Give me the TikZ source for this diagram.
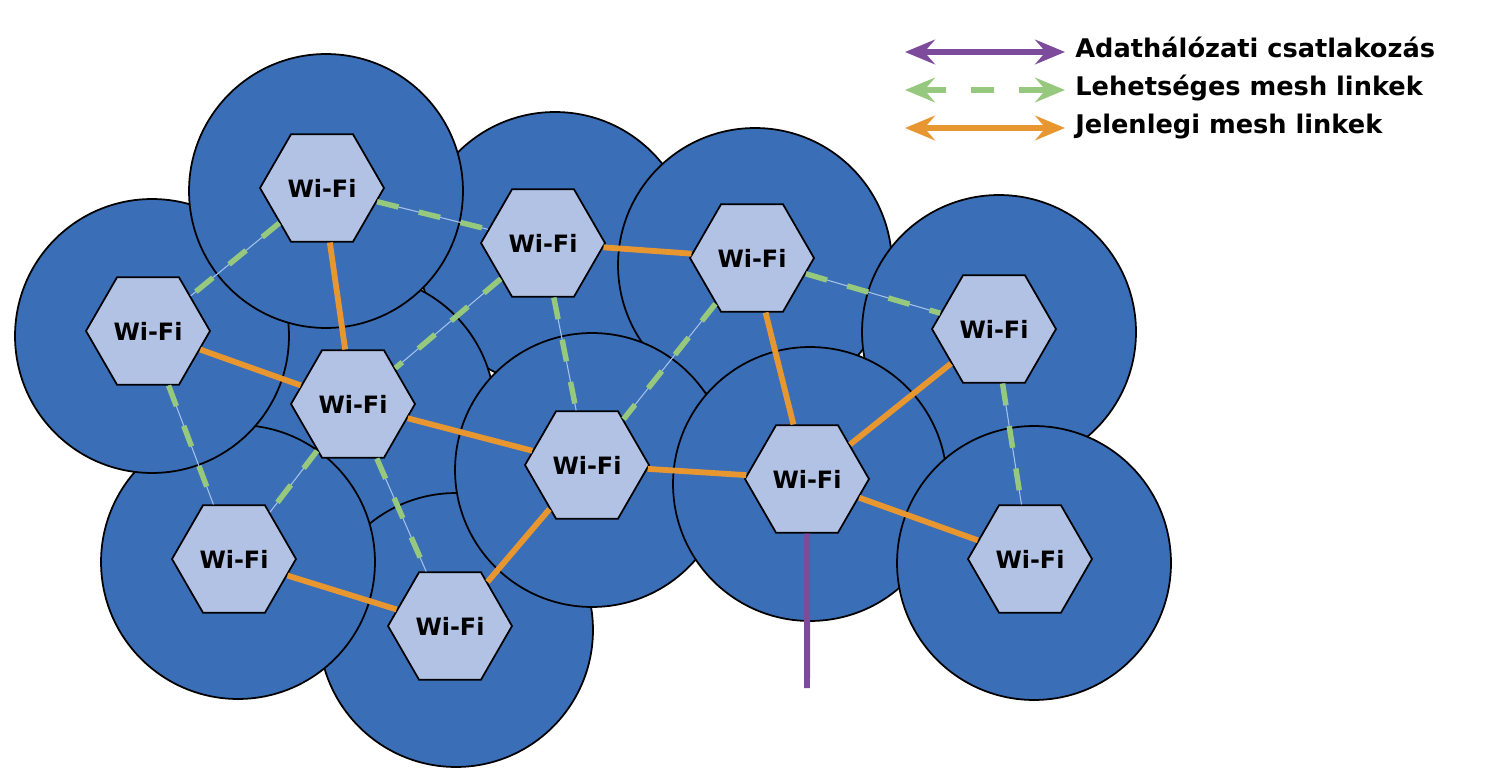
\documentclass[tikz,border=0pt]{standalone}
\usepackage{fontspec}
\setmainfont{DejaVu Sans}
\usepackage{tikz}
\usetikzlibrary{shapes.geometric, arrows.meta}
\definecolor{cellblue}{RGB}{58,110,183}
\definecolor{aplight}{RGB}{178,194,228}
\definecolor{linkorange}{RGB}{232,150,48}
\definecolor{linkgreen}{RGB}{150,200,125}
\definecolor{linkpurple}{RGB}{125,75,155}
\definecolor{linkthin}{RGB}{165,195,232}
\tikzset{
  cell/.style={circle, draw=black, fill=cellblue, minimum size=5.48cm,
    inner sep=0pt, line width=1pt},
  ap/.style={regular polygon, regular polygon sides=6, draw=black,
    fill=aplight, minimum size=2.48cm, inner sep=0pt, line width=1pt,
    font=\fontsize{13.6}{16}\selectfont\bfseries},
  curlink/.style={line width=3.3pt, color=linkorange},
  posslink/.style={line width=3.1pt, color=linkgreen,
    dash pattern=on 0.44cm off 0.42cm,
    preaction={draw=linkthin, line width=0.6pt, solid}},
  wanlink/.style={line width=3.4pt, color=linkpurple},
  legarrow/.style={{Stealth[length=17pt,width=14pt,inset=6pt]}-{Stealth[length=17pt,width=14pt,inset=6pt]},
    line width=3.3pt},
  legtext/.style={anchor=base west, inner sep=0pt,
    font=\fontsize{14.6}{17}\selectfont\bfseries}
}

\begin{document}
\begin{tikzpicture}[x=0.02cm, y=-0.02cm]
  \useasboundingbox (0,0) rectangle (1500,780);

  % ── Coverage cells, drawn back to front ──────────────────────────────────
  \node[cell] (c2)  at (555,249)  {};
  \node[cell] (c6)  at (358,412)  {};
  \node[cell] (c11) at (456,630)  {};
  \node[cell] (c10) at (238,562)  {};
  \node[cell] (c5)  at (152,336)  {};
  \node[cell] (c1)  at (326,191)  {};
  \node[cell] (c3)  at (755,265)  {};
  \node[cell] (c7)  at (592,470)  {};
  \node[cell] (c4)  at (999,332)  {};
  \node[cell] (c8)  at (810,484)  {};
  \node[cell] (c9)  at (1034,563) {};

  % ── Access points ────────────────────────────────────────────────────────
  \node[ap] (w1)  at (322,188)  {Wi-Fi};
  \node[ap] (w2)  at (543,243)  {Wi-Fi};
  \node[ap] (w3)  at (752,258)  {Wi-Fi};
  \node[ap] (w4)  at (994,329)  {Wi-Fi};
  \node[ap] (w5)  at (148,331)  {Wi-Fi};
  \node[ap] (w6)  at (353,404)  {Wi-Fi};
  \node[ap] (w7)  at (587,465)  {Wi-Fi};
  \node[ap] (w8)  at (807,479)  {Wi-Fi};
  \node[ap] (w9)  at (1030,559) {Wi-Fi};
  \node[ap] (w10) at (234,559)  {Wi-Fi};
  \node[ap] (w11) at (450,626)  {Wi-Fi};

  % ── Possible mesh links ──────────────────────────────────────────────────
  \draw[posslink] (w1) -- (w5);
  \draw[posslink] (w1) -- (w2);
  \draw[posslink] (w2) -- (w6);
  \draw[posslink] (w2) -- (w7);
  \draw[posslink] (w3) -- (w7);
  \draw[posslink] (w3) -- (w4);
  \draw[posslink] (w5) -- (w10);
  \draw[posslink] (w6) -- (w10);
  \draw[posslink] (w6) -- (w11);
  \draw[posslink] (w4) -- (w9);

  % ── Current mesh links ───────────────────────────────────────────────────
  \draw[curlink] (w1)  -- (w6);
  \draw[curlink] (w5)  -- (w6);
  \draw[curlink] (w6)  -- (w7);
  \draw[curlink] (w2)  -- (w3);
  \draw[curlink] (w3)  -- (w8);
  \draw[curlink] (w7)  -- (w8);
  \draw[curlink] (w8)  -- (w4);
  \draw[curlink] (w8)  -- (w9);
  \draw[curlink] (w10) -- (w11);
  \draw[curlink] (w11) -- (w7);

  % ── Uplink to the data network ───────────────────────────────────────────
  \coordinate (wan) at (807,688);
  \draw[wanlink] (w8) -- (wan);

  % ── Legend ───────────────────────────────────────────────────────────────
  \coordinate (lg1a) at (905,52);
  \coordinate (lg1b) at (1065,52);
  \coordinate (lg2a) at (905,90);
  \coordinate (lg2b) at (1065,90);
  \coordinate (lg3a) at (905,128);
  \coordinate (lg3b) at (1065,128);

  \draw[legarrow, linkpurple] (lg1a) -- (lg1b);
  \draw[legarrow, linkgreen,
        dash pattern=on 0.47cm off 0.5cm on 0.46cm off 0.5cm on 1cm] (lg2a) -- (lg2b);
  \draw[legarrow, linkorange] (lg3a) -- (lg3b);

  \node[legtext] (lt1) at (1075,58)  {Adathálózati csatlakozás};
  \node[legtext] (lt2) at (1075,96)  {Lehetséges mesh linkek};
  \node[legtext] (lt3) at (1075,134) {Jelenlegi mesh linkek};

\end{tikzpicture}
\end{document}
